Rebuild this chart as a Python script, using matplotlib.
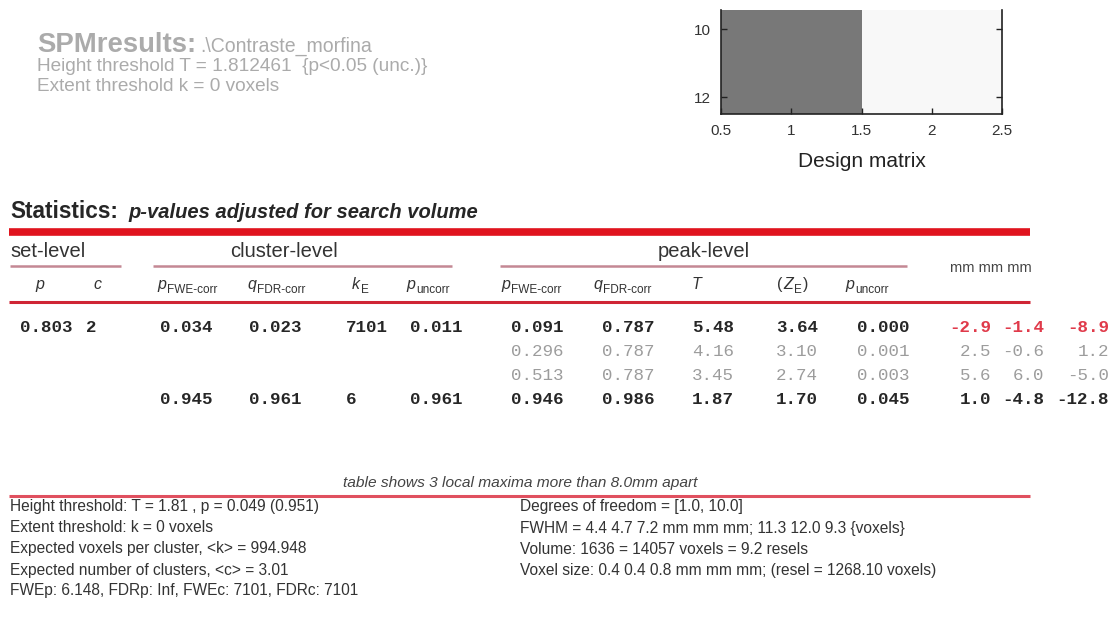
import matplotlib
matplotlib.use("Agg")
import matplotlib.pyplot as plt
import numpy as np

# ---- data -------------------------------------------------------------
contrast_name = ".\\Contraste_morfina"
height_thr_T = "1.812461"
extent_k = 0

design_col1 = [0.47, 0.47, 0.47, 0.47, 0.47, 0.47, 0.47, 0.47, 0.47, 0.47, 0.47, 0.47]
design_col2 = [0.97, 0.97, 0.97, 0.97, 0.97, 0.97, 0.97, 0.97, 0.97, 0.97, 0.97, 0.97]
design_xticks = [0.5, 1, 1.5, 2, 2.5]
design_xticklabels = ["0.5", "1", "1.5", "2", "2.5"]
design_yticks = [10, 12]

set_p = [0.803]
set_c = [2]

# cluster rows belong to peak rows 0 and 3
cluster_rows = [0, 3]
cluster_pfwe = [0.034, 0.945]
cluster_qfdr = [0.023, 0.961]
cluster_ke = [7101, 6]
cluster_punc = [0.011, 0.961]

peak_pfwe = [0.091, 0.296, 0.513, 0.946]
peak_qfdr = [0.787, 0.787, 0.787, 0.986]
peak_T = [5.48, 4.16, 3.45, 1.87]
peak_Z = [3.64, 3.10, 2.74, 1.70]
peak_punc = [0.000, 0.001, 0.003, 0.045]
mm_x = [-2.9, 2.5, 5.6, 1.0]
mm_y = [-1.4, -0.6, 6.0, -4.8]
mm_z = [-8.9, 1.2, -5.0, -12.8]

footer_left = [
    "Height threshold: T = 1.81 , p = 0.049 (0.951)",
    "Extent threshold: k = 0 voxels",
    "Expected voxels per cluster, <k> = 994.948",
    "Expected number of clusters, <c> = 3.01",
    "FWEp: 6.148, FDRp: Inf, FWEc: 7101, FDRc: 7101",
]
footer_right = [
    "Degrees of freedom = [1.0, 10.0]",
    "FWHM = 4.4 4.7 7.2 mm mm mm; 11.3 12.0 9.3 {voxels}",
    "Volume: 1636 = 14057 voxels = 9.2 resels",
    "Voxel size: 0.4 0.4 0.8 mm mm mm; (resel = 1268.10 voxels)",
]

# ---- figure -----------------------------------------------------------
W, H = 1116, 641
fig = plt.figure(figsize=(W / 100, H / 100), dpi=100)
fig.patch.set_facecolor("white")
renderer = fig.canvas.get_renderer()

# full-page pixel canvas for the report text
ax = fig.add_axes([0, 0, 1, 1])
ax.set_xlim(0, W)
ax.set_ylim(H, 0)
ax.axis("off")

SANS = "Liberation Sans"
MONO = "Liberation Mono"
GREY_TITLE = "#ababab"
DARK = "#262626"
HEAD = "#333333"
LIGHT = "#9c9c9c"
RED = "#e0141e"
RED_COORD = "#e03a4a"
MUTED = "#c48894"


def text_width(t):
    return t.get_window_extent(renderer).width


def fit_text(x0, x1, y, s, **kw):
    """Place text starting at x0 and scale its size so it ends at x1."""
    t = ax.text(x0, y, s, **kw)
    t.set_fontsize(t.get_fontsize() * (x1 - x0) / text_width(t))
    return t


# title block
fit_text(37, 196, 52, "SPMresults:", fontsize=20, fontweight="bold",
         color=GREY_TITLE, family=SANS, va="baseline")
fit_text(200, 371, 52, contrast_name, fontsize=13, color=GREY_TITLE,
         family=SANS, va="baseline")
fit_text(37, 428, 71, "Height threshold T = %s  {p<0.05 (unc.)}" % height_thr_T,
         fontsize=13, color=GREY_TITLE, family=SANS, va="baseline")
fit_text(37, 280, 91, "Extent threshold k = %d voxels" % extent_k, fontsize=13,
         color=GREY_TITLE, family=SANS, va="baseline")

# design matrix
dax = fig.add_axes([721 / W, 1 - 114 / H, (1002 - 721) / W, (114 - 10) / H])
dm = np.column_stack([design_col1, design_col2])
dax.imshow(dm, cmap="gray", vmin=0, vmax=1, aspect="auto",
           extent=[0.5, 2.5, len(design_col1) + 0.5, 0.5], interpolation="nearest")
dax.set_ylim(12.5, 9.44)
dax.set_xlim(0.5, 2.5)
dax.set_xticks(design_xticks)
dax.set_xticklabels(design_xticklabels)
dax.set_yticks(design_yticks)
dax.tick_params(direction="in", length=4, width=1, labelsize=11, pad=7,
                right=True, top=False, colors="#222222")
for lab in dax.get_xticklabels() + dax.get_yticklabels():
    lab.set_family(SANS)
    lab.set_color("#333333")
dax.spines["top"].set_visible(False)
for s in ("left", "right", "bottom"):
    dax.spines[s].set_linewidth(1.2)
    dax.spines[s].set_color("#222222")
dax.set_xlabel("Design matrix", fontsize=15, family=SANS, color="#222222", labelpad=10)

# statistics heading
fit_text(10, 118, 218, "Statistics:", fontsize=16, fontweight="bold", color=DARK,
         family=SANS, va="baseline")
fit_text(128, 479, 218, "p-values adjusted for search volume", fontsize=14,
         fontweight="bold", fontstyle="italic", color=DARK, family=SANS, va="baseline")
ax.plot([9, 1030], [232, 232], color=RED, lw=5.5, solid_capstyle="butt")

# group headings
ax.text(10, 257, "set-level", fontsize=14.5, color=HEAD, family=SANS, va="baseline")
ax.text(284, 257, "cluster-level", fontsize=14.5, color=HEAD, family=SANS,
        va="baseline", ha="center")
ax.text(704, 257, "peak-level", fontsize=14.5, color=HEAD, family=SANS,
        va="baseline", ha="center")
ax.text(991, 268, "mm mm mm", fontsize=10.5, color="#444444", family=SANS,
        va="center", ha="center")
for x0, x1 in [(10, 121), (153, 452), (500, 907)]:
    ax.plot([x0, x1], [266, 266], color=MUTED, lw=1.8, solid_capstyle="butt")


def col_header(x, main, sub=None, wrap=False):
    y = 289
    if wrap:
        t = ax.text(x, y, "(", fontsize=11.5, color=HEAD, family=SANS, va="baseline")
        x += text_width(t) + 1
    t = ax.text(x, y, main, fontsize=11.5, fontstyle="italic", color=HEAD,
                family=SANS, va="baseline")
    xe = x + text_width(t) + 1
    if sub:
        t = ax.text(xe, y + 4, sub, fontsize=8.5, color=HEAD, family=SANS,
                    va="baseline")
        xe += text_width(t)
    if wrap:
        ax.text(xe + 1, y, ")", fontsize=11.5, color=HEAD, family=SANS, va="baseline")


col_header(35, "p")
col_header(93, "c")
col_header(157, "p", "FWE-corr")
col_header(247, "q", "FDR-corr")
col_header(352, "k", "E")
col_header(406, "p", "uncorr")
col_header(501, "p", "FWE-corr")
col_header(593, "q", "FDR-corr")
col_header(692, "T")
col_header(777, "Z", "E", wrap=True)
col_header(845, "p", "uncorr")
ax.plot([9, 1030], [302, 302], color="#cf2535", lw=2.2, solid_capstyle="butt")

# table body
row_y = [328, 352, 376, 400]
row_bold = [True, False, False, True]
MONO_SIZE = 12.6


def cell(x, y, s, bold, color=None, ha="left"):
    ax.text(x, y, s, fontsize=MONO_SIZE, family=MONO,
            fontweight="bold" if bold else "normal",
            color=color or (DARK if bold else LIGHT), va="center", ha=ha)


cell(20, row_y[0], "%.3f" % set_p[0], True)
cell(86, row_y[0], "%d" % set_c[0], True)
for i, r in enumerate(cluster_rows):
    y = row_y[r]
    cell(160, y, "%.3f" % cluster_pfwe[i], True)
    cell(249, y, "%.3f" % cluster_qfdr[i], True)
    cell(346, y, "%d" % cluster_ke[i], True)
    cell(410, y, "%.3f" % cluster_punc[i], True)

for r in range(len(peak_T)):
    y = row_y[r]
    b = row_bold[r]
    cell(511, y, "%.3f" % peak_pfwe[r], b)
    cell(602, y, "%.3f" % peak_qfdr[r], b)
    cell(692, y, "%.2f" % peak_T[r], b)
    cell(776, y, "%.2f" % peak_Z[r], b)
    cell(857, y, "%.3f" % peak_punc[r], b)
    ccol = RED_COORD if r == 0 else None
    cell(991, y, "%.1f" % mm_x[r], b, ccol, ha="right")
    cell(1044, y, "%.1f" % mm_y[r], b, ccol, ha="right")
    cell(1109, y, "%.1f" % mm_z[r], b, ccol, ha="right")

# footer
fit_text(343, 698, 487, "table shows 3 local maxima more than 8.0mm apart",
         fontsize=10, fontstyle="italic", color="#444444", family=SANS, va="baseline")
ax.plot([9, 1030], [496, 496], color="#e0505f", lw=2.2, solid_capstyle="butt")
foot_y = [507, 528, 549, 570, 591]
for y, s in zip(foot_y, footer_left):
    ax.text(10, y, s, fontsize=11.2, color=HEAD, family=SANS, va="center")
for y, s in zip(foot_y, footer_right):
    ax.text(520, y, s, fontsize=11.2, color=HEAD, family=SANS, va="center")

fig.savefig("out.png", dpi=100, facecolor="white")
